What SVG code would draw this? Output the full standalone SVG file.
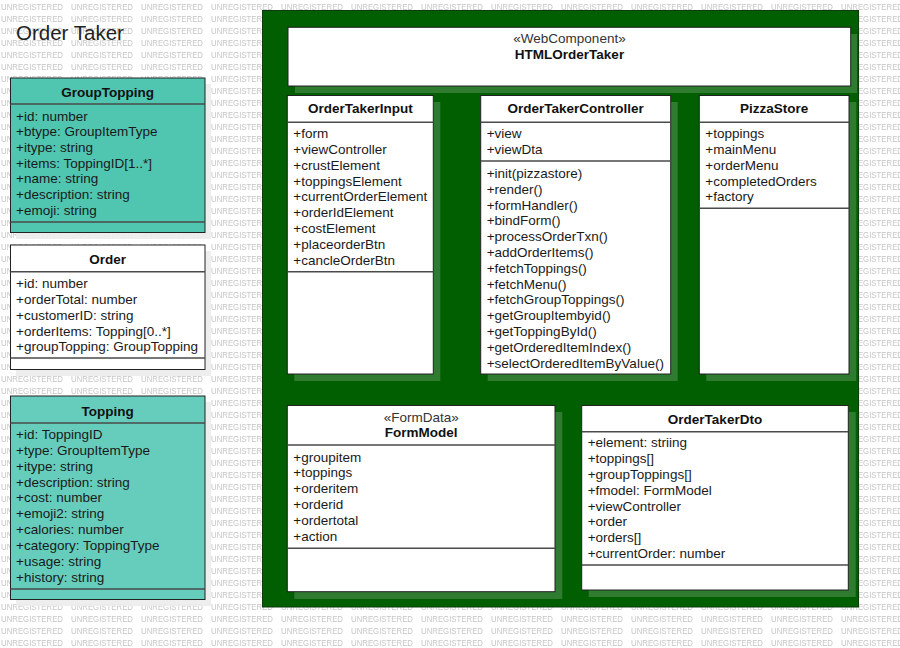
<svg xmlns="http://www.w3.org/2000/svg" width="900" height="648" viewBox="0 0 900 648">
<style>
.wm{font-family:"Liberation Sans",Arial,sans-serif;font-size:8.6px;fill:#c6c6c6}
.t{font-family:"Liberation Sans",Arial,sans-serif;font-size:13.5px;fill:#1a1a1a}
.b{font-family:"Liberation Sans",Arial,sans-serif;font-size:13.5px;font-weight:bold;fill:#111;text-anchor:middle}
.s{font-family:"Liberation Sans",Arial,sans-serif;font-size:13.5px;fill:#333;text-anchor:middle}
.box{stroke:#222;stroke-width:1}
.sep{stroke:#4a4a4a;stroke-width:1.5}
.shw{fill:#ececec;opacity:0.9}
.shg{fill:#2f7b2f}
.white{fill:#ffffff}
</style>
<defs>
<pattern id="wmp" x="0" y="0" width="70" height="12" patternUnits="userSpaceOnUse">
<text class="wm" x="1" y="10.3" textLength="62" lengthAdjust="spacingAndGlyphs">UNREGISTERED</text>
</pattern>
</defs>
<rect width="900" height="648" fill="#ffffff"/>
<rect width="900" height="648" fill="url(#wmp)"/>
<text x="16" y="40" font-family="Liberation Sans, Arial, sans-serif" font-size="20.5" fill="#222">Order Taker</text>

<g id="GroupTopping">
<rect class="shw" x="16" y="84" width="195" height="155"/>
<rect class="box" x="10.5" y="78" width="194.5" height="154.5" fill="#50c5b0"/>
<line class="sep" x1="10.5" y1="104" x2="205" y2="104"/>
<line class="sep" x1="10.5" y1="222" x2="205" y2="222"/>
<text class="b" x="107.7" y="96.5">GroupTopping</text>
<text class="t" x="16" y="120.5">+id: number</text>
<text class="t" x="16" y="136.2">+btype: GroupItemType</text>
<text class="t" x="16" y="151.9">+itype: string</text>
<text class="t" x="16" y="167.6">+items: ToppingID[1..*]</text>
<text class="t" x="16" y="183.3">+name: string</text>
<text class="t" x="16" y="199.0">+description: string</text>
<text class="t" x="16" y="214.7">+emoji: string</text>
</g>

<g id="Order">
<rect class="shw" x="16" y="251" width="195" height="125"/>
<rect class="box white" x="10.5" y="245" width="194.5" height="124.5"/>
<line class="sep" x1="10.5" y1="271.7" x2="205" y2="271.7"/>
<line class="sep" x1="10.5" y1="358" x2="205" y2="358"/>
<text class="b" x="107.7" y="264">Order</text>
<text class="t" x="16" y="287.8">+id: number</text>
<text class="t" x="16" y="303.7">+orderTotal: number</text>
<text class="t" x="16" y="319.6">+customerID: string</text>
<text class="t" x="16" y="335.5">+orderItems: Topping[0..*]</text>
<text class="t" x="16" y="351.4">+groupTopping: GroupTopping</text>
</g>

<g id="Topping">
<rect class="shw" x="16" y="402" width="195" height="204"/>
<rect class="box" x="10.5" y="396" width="194.5" height="203.5" fill="#66cdbc"/>
<line class="sep" x1="10.5" y1="423" x2="205" y2="423"/>
<line class="sep" x1="10.5" y1="589" x2="205" y2="589"/>
<text class="b" x="107.7" y="415.5">Topping</text>
<text class="t" x="16" y="439.1">+id: ToppingID</text>
<text class="t" x="16" y="454.9">+type: GroupItemType</text>
<text class="t" x="16" y="470.7">+itype: string</text>
<text class="t" x="16" y="486.6">+description: string</text>
<text class="t" x="16" y="502.4">+cost: number</text>
<text class="t" x="16" y="518.2">+emoji2: string</text>
<text class="t" x="16" y="534.0">+calories: number</text>
<text class="t" x="16" y="549.8">+category: ToppingType</text>
<text class="t" x="16" y="565.7">+usage: string</text>
<text class="t" x="16" y="581.5">+history: string</text>
</g>

<g id="HTMLOrderTakerPanel">
<rect x="262.5" y="10.5" width="596" height="596.5" fill="#015e01" stroke="#0b3d0b" stroke-width="1"/>
</g>

<g id="HTMLOrderTaker">
<rect class="shg" x="295" y="34" width="562" height="59"/>
<rect class="box white" x="288" y="27.3" width="562.7" height="58.7"/>
<text class="s" x="569.5" y="43.3">«WebComponent»</text>
<text class="b" x="569.5" y="58.8">HTMLOrderTaker</text>
</g>

<g id="OrderTakerInput">
<rect class="shg" x="294.3" y="102" width="146" height="279"/>
<rect class="box white" x="287.3" y="95.5" width="146" height="278.5"/>
<line class="sep" x1="287.3" y1="122.3" x2="433.3" y2="122.3"/>
<line class="sep" x1="287.3" y1="271.7" x2="433.3" y2="271.7"/>
<text class="b" x="360.3" y="113.1">OrderTakerInput</text>
<text class="t" x="293.3" y="138.1">+form</text>
<text class="t" x="293.3" y="153.9">+viewController</text>
<text class="t" x="293.3" y="169.8">+crustElement</text>
<text class="t" x="293.3" y="185.6">+toppingsElement</text>
<text class="t" x="293.3" y="201.4">+currentOrderElement</text>
<text class="t" x="293.3" y="217.3">+orderIdElement</text>
<text class="t" x="293.3" y="233.1">+costElement</text>
<text class="t" x="293.3" y="248.9">+placeorderBtn</text>
<text class="t" x="293.3" y="264.7">+cancleOrderBtn</text>
</g>

<g id="OrderTakerController">
<rect class="shg" x="487.7" y="102" width="190" height="279"/>
<rect class="box white" x="480.7" y="95.5" width="190" height="278.5"/>
<line class="sep" x1="480.7" y1="122.3" x2="670.7" y2="122.3"/>
<line class="sep" x1="480.7" y1="161" x2="670.7" y2="161"/>
<text class="b" x="575.7" y="113.1">OrderTakerController</text>
<text class="t" x="486.7" y="138.1">+view</text>
<text class="t" x="486.7" y="153.9">+viewDta</text>
<text class="t" x="486.7" y="178.1">+init(pizzastore)</text>
<text class="t" x="486.7" y="193.9">+render()</text>
<text class="t" x="486.7" y="209.7">+formHandler()</text>
<text class="t" x="486.7" y="225.4">+bindForm()</text>
<text class="t" x="486.7" y="241.2">+processOrderTxn()</text>
<text class="t" x="486.7" y="257.0">+addOrderItems()</text>
<text class="t" x="486.7" y="272.8">+fetchToppings()</text>
<text class="t" x="486.7" y="288.6">+fetchMenu()</text>
<text class="t" x="486.7" y="304.3">+fetchGroupToppings()</text>
<text class="t" x="486.7" y="320.1">+getGroupItembyid()</text>
<text class="t" x="486.7" y="335.9">+getToppingById()</text>
<text class="t" x="486.7" y="351.7">+getOrderedItemIndex()</text>
<text class="t" x="486.7" y="367.5">+selectOrderedItemByValue()</text>
</g>

<g id="PizzaStore">
<rect class="shg" x="706.3" y="102" width="150" height="279"/>
<rect class="box white" x="699.3" y="95.5" width="149.7" height="278.5"/>
<line class="sep" x1="699.3" y1="122.3" x2="849" y2="122.3"/>
<line class="sep" x1="699.3" y1="208.3" x2="849" y2="208.3"/>
<text class="b" x="774.2" y="113.1">PizzaStore</text>
<text class="t" x="705.3" y="138.1">+toppings</text>
<text class="t" x="705.3" y="153.9">+mainMenu</text>
<text class="t" x="705.3" y="169.8">+orderMenu</text>
<text class="t" x="705.3" y="185.6">+completedOrders</text>
<text class="t" x="705.3" y="201.4">+factory</text>
</g>

<g id="FormModel">
<rect class="shg" x="294.3" y="412" width="268" height="187"/>
<rect class="box white" x="287.3" y="405.5" width="267.7" height="186.2"/>
<line class="sep" x1="287.3" y1="445" x2="555" y2="445"/>
<line class="sep" x1="287.3" y1="548.3" x2="555" y2="548.3"/>
<text class="s" x="421.2" y="421.5">«FormData»</text>
<text class="b" x="421.2" y="437.1">FormModel</text>
<text class="t" x="293.3" y="461.5">+groupitem</text>
<text class="t" x="293.3" y="477.3">+toppings</text>
<text class="t" x="293.3" y="493.1">+orderitem</text>
<text class="t" x="293.3" y="508.9">+orderid</text>
<text class="t" x="293.3" y="524.7">+ordertotal</text>
<text class="t" x="293.3" y="540.5">+action</text>
</g>

<g id="OrderTakerDto">
<rect class="shg" x="588.7" y="412" width="267" height="185"/>
<rect class="box white" x="581.7" y="405.5" width="266.6" height="184.5"/>
<line class="sep" x1="581.7" y1="431.7" x2="848.3" y2="431.7"/>
<line class="sep" x1="581.7" y1="565" x2="848.3" y2="565"/>
<text class="b" x="715" y="424.1">OrderTakerDto</text>
<text class="t" x="587.7" y="447.1">+element: striing</text>
<text class="t" x="587.7" y="463.0">+toppings[]</text>
<text class="t" x="587.7" y="478.8">+groupToppings[]</text>
<text class="t" x="587.7" y="494.7">+fmodel: FormModel</text>
<text class="t" x="587.7" y="510.5">+viewController</text>
<text class="t" x="587.7" y="526.4">+order</text>
<text class="t" x="587.7" y="542.3">+orders[]</text>
<text class="t" x="587.7" y="558.1">+currentOrder: number</text>
</g>

<g id="connectors"></g>
</svg>
